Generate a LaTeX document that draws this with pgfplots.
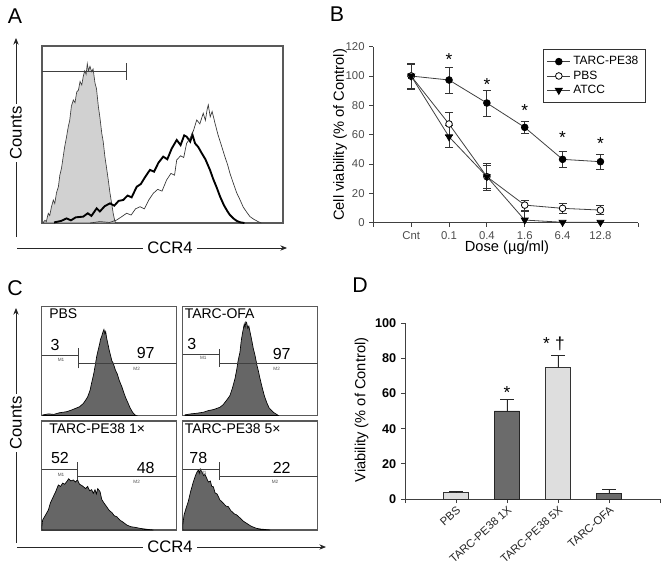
\documentclass[border=0pt]{standalone}
\usepackage{pgfplots}
\pgfplotsset{compat=1.18}
\usepackage{fontspec}
\setmainfont{Liberation Sans}
\usetikzlibrary{arrows.meta}
\newcommand\fs[1]{\fontsize{#1}{#1}\selectfont}
\pgfplotsset{
  hist/.style={scale only axis, anchor=south west, xmin=0, xmax=100, ymin=0, ymax=100,
    xtick=\empty, ytick=\empty, axis line style={black!65, line width=0.8pt}},
  cbox/.style={hist, width=101.25pt, height=81.75pt},
  gate/.style={black!75, line width=0.6pt},
}
\begin{document}
\begin{tikzpicture}[x=0.75pt,y=-0.75pt]
\path[use as bounding box] (0,0) rectangle (672,571);

% ---------- panel letters
\node[font=\fs{16}] at (15,16.5) {A};
\node[font=\fs{16}] at (337,14) {B};
\node[font=\fs{16}] at (15,288) {C};
\node[font=\fs{16}] at (360,285) {D};

% ---------- Panel A
\begin{axis}[hist, at={(31.5pt,-167.25pt)}, width=180.75pt, height=132.75pt]
\addplot[fill=black!18, draw=black!75, line width=0.5pt] coordinates {
(0,0) (0.5,0.3) (1.2,1.5) (1.8,0.8) (2.6,5.5) (3.2,4.2) (3.9,9) (4.7,13) (5.3,11) (6,17) (6.8,20.5) (7.4,27) (8.1,31) (8.8,37.5) (9.4,43) (10.1,48) (10.9,54.4) (11.5,58) (12.2,66) (13,69.5) (13.7,68) (14.4,74) (15.1,75) (15.8,80) (16.5,78) (17.1,82.7) (17.7,86) (18.3,84) (18.8,90) (19.3,86) (19.9,88.5) (20.6,85.5) (21.2,87) (22,79) (22.6,76) (23.4,65.7) (24,60) (24.8,50.7) (25.4,46) (26.1,37.5) (26.8,31) (27.5,24.3) (28.2,17) (28.9,11.1) (29.6,5) (30.3,0.7) (31,0)
} \closedcycle;
\addplot[black, line width=1.4pt] coordinates {
(5,0.3) (8,1.2) (10.2,2.6) (12,1.5) (14,3.2) (17.1,3.6) (19,5.5) (20.5,4) (22.7,8.3) (24,6.5) (26,9.5) (28.2,11.1) (30,9.8) (31.8,12.5) (33.7,13) (35.5,15.5) (37.2,14.5) (39.3,20.5) (41,22) (42.8,26) (44.8,30) (46.5,29) (48.3,34) (50.3,37.5) (52,36) (53.8,42) (55.9,46.9) (57.5,44) (59,49.5) (60,48.8) (61.5,46) (62.4,50) (63.5,45) (64.8,43) (66.3,39.4) (67.8,36) (69.7,30) (71,25) (72.5,20) (73.9,14.9) (75.5,10) (77,6.5) (78,4.5) (79.5,2.5) (80.8,1.2) (82.2,0.4) (84,0)
};
\addplot[black!80, line width=0.5pt] coordinates {
(20,0) (24,0.8) (28,0.3) (31,1.7) (33,3.5) (35.1,5.5) (37,4.5) (38.8,8) (40.7,9.2) (42.5,8) (44.3,13) (46.2,16.8) (48,19) (49.8,18) (51.7,24.3) (53.5,28) (55,27) (55.9,35.6) (57.5,38) (58.8,37) (60,45) (61.5,48) (62.8,52) (64.2,58.2) (65.5,56) (66.9,62) (67.8,58) (68.5,64) (69,66.7) (69.8,60) (70.6,63) (71.8,56.3) (73,50) (74.6,43.1) (76,37) (77,33) (78,28) (79.5,22) (80.8,17) (82.2,13) (83.5,9) (85,6) (86.3,3.6) (88,2) (89.8,0.7) (91,0)
};
\addplot[gate] coordinates {(0,85.9) (34.9,85.9)};
\addplot[gate] coordinates {(34.9,80.8) (34.9,90.4)};
\end{axis}
\draw[black!85, line width=0.6pt, -{Stealth[length=5pt,width=4pt]}] (16,237) -- (16,38);
\node[fill=white, rotate=90, font=\fs{12.5}, inner sep=2pt] at (16,133) {Counts};
\draw[black!85, line width=0.6pt, -{Stealth[length=5pt,width=4pt]}] (17,248) -- (287,248);
\node[fill=white, font=\fs{12.5}, inner sep=3pt] at (170,248) {CCR4};

% ---------- Panel B
\begin{axis}[scale only axis, at={(279.98pt,-167.03pt)}, anchor=south west,
  width=198.75pt, height=132pt,
  xmin=-1, xmax=6, ymin=0, ymax=120,
  axis x line*=bottom, axis y line*=left,
  axis line style={black!75, line width=0.6pt},
  xtick={-1,0,1,2,3,4,5,6}, xticklabels={,Cnt,0.1,0.4,1.6,6.4,12.8,},
  ytick={0,20,...,120},
  tick align=outside, major tick length=3pt, tick style={black!75, line width=0.6pt},
  tick label style={font=\fs{8.5}, text=black!70},
  /pgf/number format/assume math mode=true,
  legend style={at={(0.639,0.985)}, anchor=north west, draw=black!80, line width=0.6pt,
    font=\fs{9}, inner sep=3pt, row sep=-1pt},
  legend cell align=left,
]
\addplot[black!75, line width=0.6pt, mark=*, mark size=2.5pt, mark options={fill=black, draw=black},
  error bars/.cd, y dir=both, y explicit, error bar style={black!80, line width=0.6pt},
  error mark options={rotate=90, mark size=3pt, black!80}]
  coordinates {(0,100) +- (0,9) (1,97.3) +- (0,9) (2,81.6) +- (0,9) (3,65) +- (0,4.3) (4,43.2) +- (0,5.4) (5,41.6) +- (0,5)};
\addlegendentry{TARC-PE38}
\addplot[black!75, line width=0.6pt, mark=*, mark size=2.5pt, mark options={fill=white, draw=black},
  error bars/.cd, y dir=both, y explicit, error bar style={black!80, line width=0.6pt},
  error mark options={rotate=90, mark size=3pt, black!80}]
  coordinates {(0,100) +- (0,8) (1,67.3) +- (0,8) (2,31.4) +- (0,9) (3,12) +- (0,3.4) (4,9.8) +- (0,3.5) (5,8.6) +- (0,3)};
\addlegendentry{PBS}
\addplot[black!75, line width=0.6pt, mark=triangle*, mark size=3pt, mark options={rotate=180, fill=black, draw=black},
  error bars/.cd, y dir=both, y explicit, error bar style={black!80, line width=0.6pt},
  error mark options={rotate=90, mark size=3pt, black!80}]
  coordinates {(0,100) +- (0,8) (1,58.6) +- (0,7.5) (2,31.4) +- (0,8) (3,1.8) +- (0,6) (4,0.3) +- (0,0) (5,0.3) +- (0,0)};
\addlegendentry{ATCC}
\node[anchor=north, inner sep=0pt, font=\fs{13}] at (axis cs:1,115.5) {*};
\node[anchor=north, inner sep=0pt, font=\fs{13}] at (axis cs:2,98.2) {*};
\node[anchor=north, inner sep=0pt, font=\fs{13}] at (axis cs:3,80.7) {*};
\node[anchor=north, inner sep=0pt, font=\fs{13}] at (axis cs:4,62.5) {*};
\node[anchor=north, inner sep=0pt, font=\fs{13}] at (axis cs:5,58) {*};
\end{axis}
\node[font=\fs{11}] at (507,248) {Dose (µg/ml)};
\node[rotate=90, font=\fs{11}] at (340,135) {Cell viability (\% of Control)};

% ---------- Panel C
\begin{axis}[cbox, at={(31.28pt,-311.63pt)}]
\addplot[fill=black!60, draw=black, line width=0.5pt] coordinates {
(0.7,0.5) (5,1.5) (9,1) (13,2.5) (18.5,3.5) (22,5) (25,6.5) (28,8) (30.8,11) (32.5,14) (34,17) (35.8,23) (37,30) (38.5,38) (39.5,45) (40.7,54) (41.8,60) (42.8,65) (43.6,70) (44.4,72.5) (45.2,76) (46.1,78.9) (46.8,75) (47.4,77) (48.1,71) (49,66) (50,60) (51,55) (52,50) (53,48) (54.5,42) (56,38) (57.5,32) (59.3,26.6) (60.8,21) (62.3,16) (64.1,11) (65.5,7) (67.3,3) (69.1,0.5) (70,0)
} \closedcycle;
\addplot[gate] coordinates {(0,55.5) (27.1,55.5)};
\addplot[gate] coordinates {(27.1,43.3) (27.1,61.7)};
\addplot[gate] coordinates {(27.1,47.9) (100,47.9)};
\end{axis}
\begin{axis}[cbox, at={(137.03pt,-311.63pt)}]
\addplot[fill=black!60, draw=black, line width=0.5pt] coordinates {
(1.7,0.6) (6,1.5) (10,2) (15.3,3) (19,4.5) (23,5.5) (27.6,7.6) (30,10) (32.5,14) (35,18.3) (36.8,25) (38.7,33.7) (40,42) (41,50) (42.4,58) (43.3,68) (44.2,75) (44.9,79.5) (45.6,84) (46.2,81) (46.8,86) (47.4,85) (48.2,80) (49,82) (49.9,76.5) (51,70) (52.2,62) (53.6,55) (55,46) (56.2,40) (57.3,33.7) (58.8,26) (60.5,18) (62.2,12) (64,7) (65.6,5) (67.1,3) (69,1.5) (70.8,0)
} \closedcycle;
\addplot[gate] coordinates {(0,56.1) (26.9,56.1)};
\addplot[gate] coordinates {(26.9,44.8) (26.9,61.2)};
\addplot[gate] coordinates {(26.9,47.9) (100,47.9)};
\end{axis}
\begin{axis}[cbox, at={(31.28pt,-397.5pt)}]
\addplot[fill=black!60, draw=black, line width=0.5pt] coordinates {
(0,2) (0.7,9.2) (2.5,13) (4.9,18.3) (6.5,25) (8.6,30.6) (10.3,35) (12.3,41.3) (14,40) (15.5,43) (17,42) (18.5,44.3) (20,47) (21.5,45) (23.4,45.9) (25,44) (26.5,46) (28,42) (29.5,41) (30.8,39.8) (32.5,38) (34,40) (35.5,36) (37,37) (38.2,33.6) (39.5,37) (40.5,33) (41.5,38) (43.2,35.2) (44.5,28) (46,25) (48.1,21.4) (50,18) (52,16) (53.8,13) (55.6,12.2) (58,9) (60.5,7) (63,4.6) (66,3) (69,2.5) (72.8,1.5) (77,0.8) (82.7,0)
} \closedcycle;
\addplot[gate] coordinates {(0,55.7) (26.4,55.7)};
\addplot[gate] coordinates {(26.4,46) (26.4,62.7)};
\addplot[gate] coordinates {(26.4,48.9) (100,48.9)};
\end{axis}
\begin{axis}[cbox, at={(137.03pt,-397.5pt)}]
\addplot[fill=black!60, draw=black, line width=0.5pt] coordinates {
(0,4) (1,13.8) (2.5,20) (4.1,26) (5.8,35) (7.9,44.3) (9.5,50) (10.5,53) (11.6,55) (12.3,52) (13,56) (14.1,53.5) (15.5,50) (16.5,51) (17.8,47.4) (19,44) (20.5,45) (21.5,40) (22.7,39.7) (24,34) (25.5,33) (27.6,27.5) (29,26) (30.5,24) (32,22) (33.8,21.4) (35.5,18) (38,15) (40,13.8) (42.5,11) (45,8) (47.4,6.1) (50,4) (52.5,2.5) (54.8,1.5) (58,0.8) (61,0.5) (64.7,0)
} \closedcycle;
\addplot[gate] coordinates {(0,56) (26.9,56)};
\addplot[gate] coordinates {(26.9,45.9) (26.9,62.7)};
\addplot[gate] coordinates {(26.9,48.9) (100,48.9)};
\end{axis}
% C labels
\node[anchor=north west, inner sep=0pt, font=\fs{10.5}] at (49,308.5) {PBS};
\node[anchor=north west, inner sep=0pt, font=\fs{10.5}] at (184.5,308.5) {TARC-OFA};
\node[anchor=north west, inner sep=0pt, font=\fs{10.5}] at (49,423) {TARC-PE38 1×};
\node[anchor=north west, inner sep=0pt, font=\fs{10.5}] at (184.5,423) {TARC-PE38 5×};
\node[font=\fs{12}] at (55,345) {3};
\node[font=\fs{12}] at (145.7,353.3) {97};
\node[font=\fs{12}] at (191.7,344.3) {3};
\node[font=\fs{12}] at (281.7,354.3) {97};
\node[font=\fs{12}] at (60,458.3) {52};
\node[font=\fs{12}] at (145.7,468.3) {48};
\node[font=\fs{12}] at (198.3,458.3) {78};
\node[font=\fs{12}] at (281.7,467.7) {22};
\node[font=\fs{3.5}, text=black!70] at (61,360) {M1};
\node[font=\fs{3.5}, text=black!70] at (136.7,369.3) {M2};
\node[font=\fs{3.5}, text=black!70] at (203.3,358.3) {M1};
\node[font=\fs{3.5}, text=black!70] at (276.7,369) {M2};
\node[font=\fs{3.5}, text=black!70] at (61,475) {M1};
\node[font=\fs{3.5}, text=black!70] at (136.7,481.7) {M2};
\node[font=\fs{3.5}, text=black!70] at (203.3,473.3) {M1};
\node[font=\fs{3.5}, text=black!70] at (275,481.7) {M2};
\draw[black!85, line width=0.6pt, -{Stealth[length=5pt,width=4pt]}] (16,543) -- (16,308);
\node[fill=white, rotate=90, font=\fs{12.5}, inner sep=2pt] at (16,423) {Counts};
\draw[black!85, line width=0.6pt, -{Stealth[length=5pt,width=4pt]}] (17,547) -- (326,547);
\node[fill=white, font=\fs{12.5}, inner sep=3pt] at (170,547) {CCR4};

% ---------- Panel D
\begin{axis}[scale only axis, at={(303.75pt,-374.25pt)}, anchor=south west,
  width=191.25pt, height=131.78pt,
  xmin=-1, xmax=4, ymin=0, ymax=100,
  axis x line*=bottom, axis y line*=left,
  axis line style={black!75, line width=0.6pt},
  xtick={-1,0,1,2,3,4}, xticklabels={,PBS,TARC-PE38 1X,TARC-PE38 5X,TARC-OFA,},
  ytick={0,20,...,100},
  tick align=outside, major tick length=3pt, tick style={black!75, line width=0.6pt},
  yticklabel style={font=\bfseries\fs{9.5}},
  xticklabel style={font=\fs{8.5}, rotate=42, anchor=north east, inner sep=1pt, text=black!85},
  /pgf/number format/assume math mode=true,
]
\addplot[ybar, bar width=18.75pt, bar shift=0pt, fill=black!13, draw=black!80, line width=0.6pt,
  error bars/.cd, y dir=plus, y explicit, error bar style={black!85, line width=0.6pt},
  error mark options={rotate=90, mark size=5pt, black!85}]
  coordinates {(0,3.8) +- (0,0.4) (2,74.8) +- (0,7.2)};
\addplot[ybar, bar width=18.75pt, bar shift=0pt, fill=black!58, draw=black!85, line width=0.6pt,
  error bars/.cd, y dir=plus, y explicit, error bar style={black!85, line width=0.6pt},
  error mark options={rotate=90, mark size=5pt, black!85}]
  coordinates {(1,50.1) +- (0,6.8) (3,3.2) +- (0,2.3)};
\node[anchor=north, inner sep=0pt, font=\fs{13}] at (axis cs:1,64.3) {*};
\node[anchor=north, inner sep=0pt, font=\fs{13}, xshift=-3pt] at (axis cs:2,92.5) {*\hspace{4pt}†};
\end{axis}
\node[rotate=90, font=\fs{11}] at (361.7,410) {Viability (\% of Control)};

\end{tikzpicture}
\end{document}
